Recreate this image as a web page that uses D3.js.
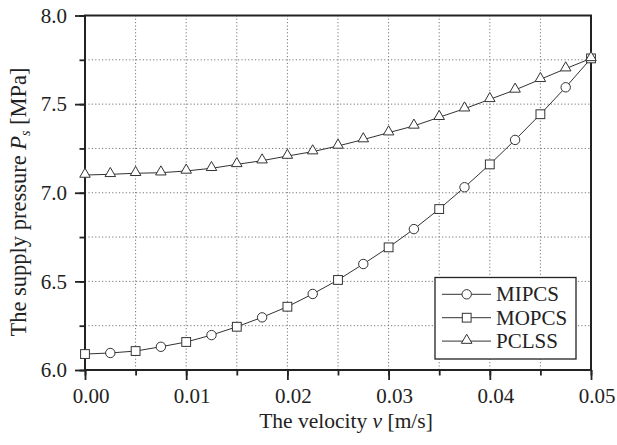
<!DOCTYPE html>
<html><head><meta charset="utf-8">
<script src="https://cdn.jsdelivr.net/npm/d3@7/dist/d3.min.js"></script>
<style>body{margin:0;background:#fff}svg{display:block}</style>
</head><body>
<script>
// ---- data ----
const pclssV = [0,0.0025,0.005,0.0075,0.01,0.0125,0.015,0.0175,0.02,0.0225,0.025,0.0275,0.03,0.0325,0.035,0.0375,0.04,0.0425,0.045,0.0475,0.05];
const pclssP = [7.100,7.104,7.110,7.113,7.123,7.138,7.160,7.181,7.207,7.232,7.264,7.300,7.339,7.377,7.426,7.474,7.527,7.580,7.640,7.700,7.758];
const mipcsV = [0.0025,0.0075,0.0125,0.0175,0.0225,0.0275,0.0325,0.0375,0.0425,0.0475];
const mipcsP = [6.096,6.131,6.197,6.297,6.429,6.598,6.795,7.031,7.298,7.595];
const mopcsV = [0,0.005,0.01,0.015,0.02,0.025,0.03,0.035,0.04,0.045,0.05];
const mopcsP = [6.090,6.107,6.158,6.244,6.357,6.508,6.692,6.908,7.160,7.443,7.758];
const xTicks = [0,0.01,0.02,0.03,0.04,0.05];
const xMinor = [0,0.005,0.01,0.015,0.02,0.025,0.03,0.035,0.04,0.045,0.05];
const yTicks = [6.0,6.5,7.0,7.5,8.0];
const yMinor = [6.0,6.25,6.5,6.75,7.0,7.25,7.5,7.75,8.0];
const legendNames = ["MIPCS","MOPCS","PCLSS"];

const FONT='"Liberation Serif","Times New Roman",serif';
const W=617,H=445;
const m={l:85,r:26,t:15.5,b:75};
const svg=d3.select("body").append("svg").attr("width",W).attr("height",H);
const x=d3.scaleLinear().domain([0,0.05]).range([m.l,W-m.r]);
const y=d3.scaleLinear().domain([6,8]).range([H-m.b,m.t]);
const ink="#222";

// grid
const g=svg.append("g");
g.selectAll("line.gx").data(xMinor.slice(1,-1)).join("line")
 .attr("x1",d=>x(d)).attr("x2",d=>x(d)).attr("y1",y(6)).attr("y2",y(8))
 .attr("stroke","#777").attr("stroke-width",1).attr("stroke-dasharray","1.2,2.2");
g.selectAll("line.gy").data(yMinor.slice(1,-1)).join("line")
 .attr("y1",d=>y(d)).attr("y2",d=>y(d)).attr("x1",x(0)).attr("x2",x(0.05))
 .attr("stroke","#777").attr("stroke-width",1).attr("stroke-dasharray","1.2,2.2");

// axes
const xa=d3.axisBottom(x).tickValues(xTicks).tickFormat(d3.format(".2f")).tickSize(10);
const xm=d3.axisBottom(x).tickValues(xMinor).tickFormat("").tickSize(5.5);
const ya=d3.axisLeft(y).tickValues(yTicks).tickFormat(d3.format(".1f")).tickSize(10).tickPadding(8);
const ym=d3.axisLeft(y).tickValues(yMinor).tickFormat("").tickSize(5.5);
function style(sel){
  sel.select(".domain").remove();
  sel.selectAll("line").attr("stroke",ink).attr("stroke-width",1.8);
  sel.selectAll("text").style("font-family",FONT).attr("font-size",21).attr("fill","#222");
}
svg.append("g").attr("transform",`translate(0,${y(6)})`).call(xm).call(style);
const gx=svg.append("g").attr("transform",`translate(0,${y(6)})`).call(xa).call(style);
gx.selectAll("text").attr("dy",null).attr("y",33.3).attr("x",5.5);
svg.append("g").attr("transform",`translate(${x(0)},0)`).call(ym).call(style);
const gy=svg.append("g").attr("transform",`translate(${x(0)},0)`).call(ya).call(style);
gy.selectAll("text").attr("x",-18);
svg.append("rect").attr("x",x(0)).attr("y",y(8)).attr("width",x(0.05)-x(0)).attr("height",y(6)-y(8))
 .attr("fill","none").attr("stroke",ink).attr("stroke-width",2);

// lines
const line=d3.line().x(d=>x(d[0])).y(d=>y(d[1]));
const zip=(a,b)=>a.map((v,i)=>[v,b[i]]);
const pcl=zip(pclssV,pclssP), mip=zip(mipcsV,mipcsP), mop=zip(mopcsV,mopcsP);
const curve=[...mip,...mop].sort((a,b)=>a[0]-b[0]);
svg.append("path").attr("d",line(pcl)).attr("fill","none").attr("stroke","#333").attr("stroke-width",1);
svg.append("path").attr("d",line(curve)).attr("fill","none").attr("stroke","#333").attr("stroke-width",1);

// markers
const tri=d3.symbol().type(d3.symbolTriangle).size(48);
function circ(sel){sel.append("circle").attr("r",4.7).attr("fill","#fff").attr("stroke","#333").attr("stroke-width",1);}
function sq(sel){sel.append("rect").attr("x",-4.4).attr("y",-4.4).attr("width",8.8).attr("height",8.8).attr("fill","#fff").attr("stroke","#333").attr("stroke-width",1);}
function tr(sel){sel.append("path").attr("d",tri).attr("transform","translate(0,-0.8)").attr("fill","#fff").attr("stroke","#333").attr("stroke-width",1);}
svg.append("g").selectAll("g").data(mip).join("g").attr("transform",d=>`translate(${x(d[0])},${y(d[1])})`).call(circ);
svg.append("g").selectAll("g").data(mop).join("g").attr("transform",d=>`translate(${x(d[0])},${y(d[1])})`).call(sq);
svg.append("g").selectAll("g").data(pcl).join("g").attr("transform",d=>`translate(${x(d[0])},${y(d[1])})`).call(tr);

// axis titles
const xt=svg.append("text").attr("x",346).attr("y",428).attr("text-anchor","middle").attr("font-size",21.5).style("font-family",FONT).attr("fill","#222");
xt.append("tspan").text("The velocity ");
xt.append("tspan").attr("font-style","italic").text("v");
xt.append("tspan").text(" [m/s]");
const yt=svg.append("text").attr("transform",`translate(26,202) rotate(-90)`).attr("text-anchor","middle").attr("font-size",22.5).style("font-family",FONT).attr("fill","#222");
yt.append("tspan").text("The supply pressure ");
yt.append("tspan").attr("font-style","italic").text("P");
yt.append("tspan").attr("font-style","italic").attr("font-size",14).attr("dy",4).text("s");
yt.append("tspan").attr("dy",-4).text(" [MPa]");

// legend
const lg=svg.append("g");
lg.append("rect").attr("x",435).attr("y",277.5).attr("width",141).attr("height",81.5).attr("fill","#fff").attr("stroke",ink).attr("stroke-width",1.3);
const marks=[circ,sq,tr];
legendNames.forEach((n,i)=>{
  const yy=294.3+i*23.4;
  lg.append("line").attr("x1",442).attr("x2",491).attr("y1",yy).attr("y2",yy).attr("stroke","#333").attr("stroke-width",1);
  lg.append("g").attr("transform",`translate(466.7,${yy})`).call(marks[i]);
  lg.append("text").attr("x",496).attr("y",yy+6.8).attr("font-size",21).style("font-family",FONT).attr("fill","#222").text(n);
});
</script>
</body></html>
